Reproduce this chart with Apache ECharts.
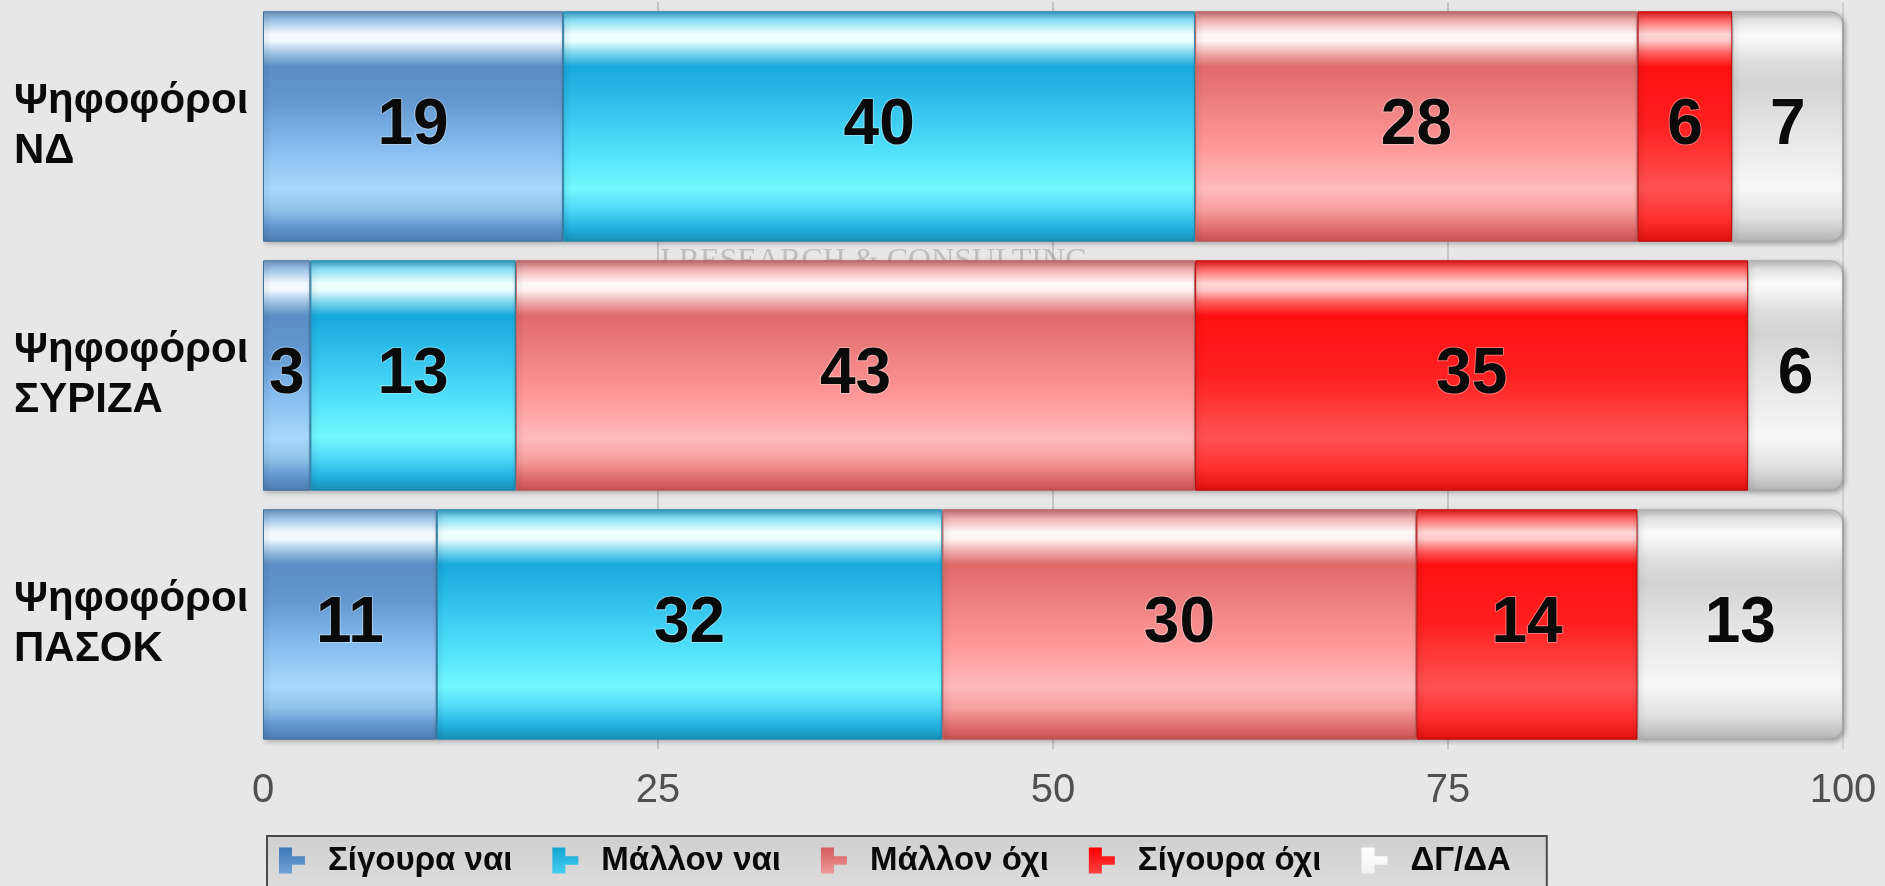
<!DOCTYPE html>
<html>
<head>
<meta charset="utf-8">
<script src="https://cdn.jsdelivr.net/npm/echarts@6/dist/echarts.min.js"></script>
<style>
html,body{margin:0;padding:0;background:#e7e7e7;}
#c{width:1885px;height:886px;}
</style>
</head>
<body>
<div id="c"></div>
<script>
// ---- data ----
const categories = ['Ψηφοφόροι\nΝΔ', 'Ψηφοφόροι\nΣΥΡΙΖΑ', 'Ψηφοφόροι\nΠΑΣΟΚ'];
const seriesNames = ['Σίγουρα ναι', 'Μάλλον ναι', 'Μάλλον όχι', 'Σίγουρα όχι', 'ΔΓ/ΔΑ'];
const sigouraNai = [19, 3, 11];
const mallonNai = [40, 13, 32];
const mallonOxi = [28, 43, 30];
const sigouraOxi = [6, 35, 14];
const dgda = [7, 6, 13];
const xTickValues = [0, 25, 50, 75, 100];

// ---- styles ----
function grad(stops) {
  return new echarts.graphic.LinearGradient(0, 0, 0, 1, stops.map(s => ({offset: s[0], color: s[1]})));
}
const fills = [
  grad([[0,'#6f98c2'],[0.04,'#9cc4e8'],[0.1,'#f5faff'],[0.13,'#f0f8ff'],[0.18,'#a0c4e4'],[0.24,'#5a8ec4'],[0.4,'#6399d0'],[0.6,'#88bff0'],[0.77,'#a8d8fc'],[0.86,'#90c4ec'],[0.94,'#5f94cc'],[1,'#4e7eb0']]),
  grad([[0,'#3a9cc4'],[0.04,'#88e0f4'],[0.1,'#f0ffff'],[0.13,'#eafeff'],[0.18,'#80d8f0'],[0.24,'#18a8dc'],[0.4,'#30c0ec'],[0.6,'#50e0fa'],[0.77,'#72f8ff'],[0.86,'#50d8f8'],[0.94,'#22b0e0'],[1,'#1890b8']]),
  grad([[0,'#c07070'],[0.04,'#f0b0b0'],[0.1,'#fff8f8'],[0.13,'#fff2f2'],[0.18,'#f0b0b0'],[0.24,'#df6a6a'],[0.4,'#ee7f7f'],[0.6,'#ff9a9a'],[0.77,'#ffbaba'],[0.86,'#f8a0a0'],[0.94,'#e07070'],[1,'#c85050']]),
  grad([[0,'#e01818'],[0.04,'#ff6868'],[0.1,'#ffd8d8'],[0.13,'#ffc8c8'],[0.18,'#ff6060'],[0.24,'#ff1010'],[0.5,'#ff2020'],[0.77,'#ff5252'],[0.9,'#ff3030'],[1,'#e01010']]),
  grad([[0,'#bcbcbc'],[0.04,'#e2e2e2'],[0.1,'#fbfbfb'],[0.14,'#f4f4f4'],[0.22,'#dedede'],[0.32,'#d3d3d3'],[0.5,'#e4e4e4'],[0.77,'#f8f8f8'],[0.9,'#e0e0e0'],[1,'#b4b4b4']])
];
const borders = ['#3f6f9f', '#1a86aa', '#b85a5a', '#c00000', '#a8a8a8'];
const legendColors = [
  grad([[0,'#3f78b8'],[1,'#6fa2d6']]),
  grad([[0,'#12a2d2'],[1,'#45d0f0']]),
  grad([[0,'#d45c5c'],[1,'#f09a9a']]),
  grad([[0,'#ff0000'],[1,'#ff4040']]),
  grad([[0,'#ffffff'],[1,'#f2f2f2']])
];
const dataSets = [sigouraNai, mallonNai, mallonOxi, sigouraOxi, dgda];

const chart = echarts.init(document.getElementById('c'), null, {renderer: 'canvas'});

const series = dataSets.map((d, i) => ({
  name: seriesNames[i],
  type: 'bar',
  stack: 'total',
  barCategoryGap: '7.5%',
  data: d,
  itemStyle: {
    color: fills[i],
    borderColor: borders[i],
    borderWidth: 1,
    borderRadius: i === 4 ? [0, 12, 12, 0] : 0,
    shadowColor: 'rgba(0,0,0,0.3)',
    shadowBlur: 5,
    shadowOffsetX: 2,
    shadowOffsetY: 2
  },
  label: {
    show: true,
    position: 'inside',
    color: '#0a0a0a',
    fontFamily: 'Liberation Sans, Arial, sans-serif',
    fontWeight: 'bold',
    fontSize: 64,
    textBorderColor: 'rgba(255,255,255,0.35)',
    textBorderWidth: 2
  },
  emphasis: {disabled: true}
}));

const legendIcon = 'path://M0 0H6V4H0Z M0 4H12V8H0Z M0 8H6V12H0Z';

const option = {
  backgroundColor: '#e7e7e7',
  animation: false,
  grid: {left: 263, right: 42, top: 2, bottom: 137},
  xAxis: {
    type: 'value',
    min: 0, max: 100, interval: 25,
    axisLine: {show: false},
    axisTick: {show: false},
    splitLine: {show: true, lineStyle: {color: ['rgba(0,0,0,0)', '#c4c4c4', '#c4c4c4', '#c4c4c4', '#cfcfcf'], width: 2}},
    axisLabel: {
      color: '#505050',
      fontFamily: 'Liberation Sans Narrow, Arial Narrow, sans-serif',
      fontSize: 40,
      margin: 22,
      customValues: xTickValues
    }
  },
  yAxis: {
    type: 'category',
    inverse: true,
    data: categories,
    axisLine: {show: false},
    axisTick: {show: false},
    splitLine: {show: false},
    axisLabel: {
      align: 'left',
      margin: 249,
      color: '#0a0a0a',
      fontFamily: 'Liberation Sans, Arial, sans-serif',
      fontWeight: 'bold',
      fontSize: 42,
      lineHeight: 50
    }
  },
  legend: {
    left: 267,
    top: 836,
    orient: 'horizontal',
    itemWidth: 26,
    itemHeight: 28,
    itemGap: 40,
    padding: [8, 36, 14, 12],
    backgroundColor: new echarts.graphic.LinearGradient(0, 0, 0, 1, [{offset: 0, color: '#cfcfcf'}, {offset: 1, color: '#dedede'}]),
    borderColor: '#4a4a4a',
    borderWidth: 2,
    selectedMode: false,
    icon: legendIcon,
    textStyle: {
      color: '#0a0a0a',
      fontFamily: 'Liberation Sans, Arial, sans-serif',
      fontWeight: 'bold',
      fontSize: 33,
      padding: [0, 0, 0, 18]
    },
    data: seriesNames.map((n, i) => ({name: n, itemStyle: {color: legendColors[i], borderWidth: 0, shadowBlur: 0, shadowOffsetX: 0, shadowOffsetY: 0}}))
  },
  graphic: [{
    type: 'text',
    z: 1,
    left: 660,
    top: 246,
    style: {
      text: 'I RESEARCH & CONSULTING',
      fill: 'rgba(150,150,150,0.5)',
      font: '32px "Liberation Serif", serif'
    }
  }],
  series: series
};
chart.setOption(option);
</script>
</body>
</html>
